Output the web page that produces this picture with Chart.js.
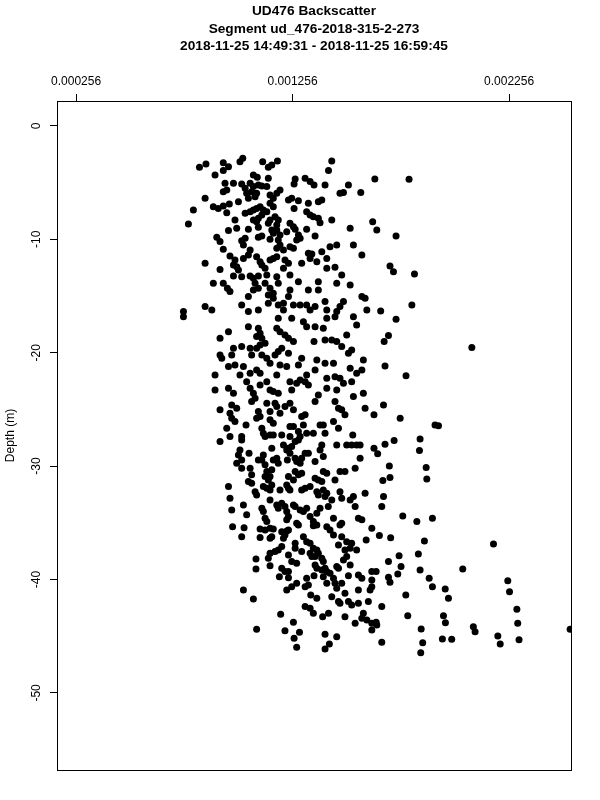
<!DOCTYPE html>
<html>
<head>
<meta charset="utf-8">
<title>UD476 Backscatter</title>
<script src="https://cdn.jsdelivr.net/npm/chart.js@4/dist/chart.umd.min.js"></script>
<style>
  html, body { margin: 0; padding: 0; background: #fff; }
  canvas { display: block; }
</style>
</head>
<body>
<canvas id="chart" width="600" height="800"></canvas>
<script>
const titleLines = ["UD476 Backscatter", "Segment ud_476-2018-315-2-273", "2018-11-25 14:49:31 - 2018-11-25 16:59:45"];
const xTicks = [0.000256, 0.001256, 0.002256];
const yTicks = [0, -10, -20, -30, -40, -50];

// backscatter readings
const backscatter = [
  0.001026,0.001013,0.000936,0.000960,0.000856,0.000826,0.001118,0.001144,0.001160,0.001186,
  0.001437,0.001422,0.000898,0.000936,0.001075,0.001093,0.001268,0.001263,0.001314,0.001337,
  0.001355,0.001406,0.001514,0.001144,0.000944,0.000983,0.001021,0.001037,0.001060,0.001075,
  0.001067,0.001098,0.001114,0.001137,0.000936,0.000952,0.000852,0.001006,0.001044,0.001052,
  0.001083,0.001090,0.001152,0.001167,0.001183,0.001198,0.001237,0.001252,0.001283,0.001329,
  0.001375,0.001391,0.001475,0.001491,0.001571,0.000890,0.000913,0.000936,0.000964,0.000798,
  0.000952,0.001037,0.001060,0.001075,0.001090,0.001106,0.001121,0.001137,0.001152,0.001167,
  0.001263,0.001321,0.001337,0.001352,0.001375,0.001383,0.001437,0.001114,0.001098,0.001090,
  0.001075,0.000990,0.000775,0.001152,0.001175,0.001190,0.001183,0.001144,0.001160,0.001167,
  0.001244,0.001260,0.001268,0.001321,0.001522,0.001626,0.000960,0.000998,0.001052,0.001098,
  0.001183,0.001198,0.001190,0.001229,0.001283,0.001275,0.001291,0.001360,0.000906,0.000921,
  0.001021,0.001037,0.001029,0.001098,0.001114,0.001152,0.001198,0.001183,0.001214,0.001244,
  0.001260,0.001329,0.001345,0.001391,0.001429,0.001460,0.001537,0.001576,0.000936,0.000967,
  0.001060,0.001052,0.001090,0.001106,0.001114,0.001129,0.001152,0.001167,0.001183,0.001221,
  0.001237,0.001214,0.001298,0.001337,0.001368,0.001414,0.001414,0.001452,0.000852,0.000921,
  0.000983,0.000990,0.000998,0.001006,0.001029,
  0.001021,0.000983,0.001060,0.001075,0.001098,0.001137,0.001183,0.001244,0.001483,
  0.001636,0.001794,0.001645,0.001734,0.001706,0.001722,0.001819,
  0.000890,0.000936,0.000955,0.000967,0.001083,0.001098,0.001075,0.001129,0.001152,0.001167,
  0.001144,0.001190,0.001244,0.001283,0.001329,0.001375,0.001375,0.001460,0.001522,0.001576,
  0.001591,0.001052,0.001021,0.001052,0.000852,0.000883,0.000752,0.000752,0.001098,0.001144,
  0.001167,0.001190,0.001214,0.001237,0.001260,0.001291,0.001321,0.001337,0.001360,0.001406,
  0.001414,0.001460,0.001475,0.001491,0.001599,0.001190,0.001214,0.001252,0.001306,0.001321,
  0.001360,0.001398,0.001414,0.001452,0.001537,0.001552,0.000960,0.000921,0.001052,0.001098,
  0.001106,0.001090,0.001114,0.001129,0.001183,0.001198,0.001221,0.001237,0.001260,0.001355,
  0.001406,0.001437,0.001460,0.001506,0.001483,0.001529,0.001514,0.000983,0.000975,0.001021,
  0.001060,0.001067,0.001090,0.001106,0.001114,0.000921,0.000929,0.001137,0.001152,0.001175,
  0.001190,0.001206,0.001237,0.001198,0.001229,0.001283,0.001298,0.001368,0.001406,0.001445,
  0.001522,0.001583,0.000960,0.000990,0.001029,0.000898,0.001013,0.001060,0.001090,0.001106,
  0.001183,0.001275,0.001291,0.001321,0.001314,0.001329,0.001360,0.001414,0.001452,0.001475,
  0.001491,0.001552,0.001576,0.001529,0.000898,0.000960,0.000983,0.001044,0.001060,0.001106,
  0.001137,0.001152,0.001167,0.001190,0.001075,0.001083,0.001244,0.001252,0.001375,0.001414,
  0.001460,0.001537,0.001583,
  0.001807,0.001663,0.001734,0.001699,0.001679,0.002084,0.001683,0.001780,
  0.000975,0.000998,0.001067,0.001137,0.001175,0.001183,0.001221,0.001244,0.001360,0.001452,
  0.001468,0.001483,0.001498,0.001591,0.001632,0.000921,0.000967,0.000975,0.000990,0.001098,
  0.001106,0.001090,0.001152,0.001198,0.001260,0.001298,0.001314,0.001152,0.001167,0.001041,
  0.000952,0.001114,0.001121,0.001129,0.001152,0.001167,0.001206,0.001244,0.001260,0.001306,
  0.001352,0.001321,0.001244,0.001283,0.001291,0.001383,0.001398,0.001406,0.001445,0.001468,
  0.001534,0.000967,0.001021,0.001021,0.000921,0.001214,0.001237,0.001252,0.001268,0.001283,
  0.001391,0.001460,0.001506,0.001529,0.001552,0.001568,0.001632,0.001013,0.001006,0.000998,
  0.001021,0.001055,0.001121,0.001114,0.001098,0.001160,0.001167,0.001183,0.001190,0.001229,
  0.001244,0.001268,0.001275,0.001291,0.001298,0.001314,0.001329,0.001232,0.001360,0.001383,
  0.001398,0.001568,0.001021,0.001060,0.001067,0.001129,0.001137,0.001152,0.001144,0.001129,
  0.001160,0.001268,0.001283,0.001298,0.001237,0.001260,0.001360,0.001375,0.001391,0.001398,
  0.001414,0.001452,0.001475,0.001498,0.001545,0.000960,0.001052,0.001067,0.001083,0.001090,
  0.001121,0.001137,0.001152,0.001160,0.001198,0.001229,0.001237,0.001244,0.001298,0.001314,
  0.001337,0.001368,0.001375,0.001398,0.001406,0.001414,0.001437,0.001475,0.001483,0.001522,
  0.001537,0.001591,0.000967,0.001029,0.000975,0.001114,0.001121,0.001152,0.001183,0.001190,
  0.001206,0.001221,0.001229,0.001260,0.001268,0.001291,0.001306,0.001321,0.001368,0.001383,
  0.001421,0.001545,0.001044,0.001129,0.001137,0.001229,0.001237,0.001275,0.001337,0.001352,
  0.001368,0.001445,0.001560,0.001576,0.001483,
  0.001676,0.001753,0.001914,0.001930,0.001845,0.001725,0.001683,0.001649,0.001842,0.001703,
  0.001873,0.001706,0.001673,0.001876,0.001676,0.001668,0.001765,0.001830,0.001902,
  0.000979,0.001032,0.001106,0.001129,0.001152,0.001167,0.001206,0.001229,0.001237,0.001283,
  0.001352,0.001414,0.001429,0.001445,0.001475,0.001021,0.001106,0.001152,0.001160,0.001214,
  0.001221,0.001306,0.001321,0.001337,0.001483,0.001506,0.001529,0.001596,0.001622,0.001206,
  0.001190,0.001175,0.001152,0.001144,0.001268,0.001268,0.001298,0.001352,0.001368,0.001337,
  0.001345,0.001360,0.001375,0.001391,0.001398,0.001468,0.001498,0.001522,0.001552,0.001506,
  0.001491,0.001087,0.001087,0.001152,0.001237,0.001252,0.001275,0.001206,0.001221,0.001237,
  0.001237,0.001195,0.001360,0.001368,0.001391,0.001406,0.001460,0.001468,0.001522,0.001321,
  0.001355,0.001398,0.001414,0.001429,0.001445,0.001452,0.001483,0.001460,0.001514,0.001560,
  0.001576,0.001622,0.001622,0.001275,0.001252,0.001229,0.001314,0.001329,0.001414,0.001029,
  0.001075,0.001340,0.001368,0.001437,0.001468,0.001475,0.001498,0.001514,0.001529,0.001560,
  0.001560,0.001606,0.001614,0.001622,0.001314,0.001337,0.001352,0.001422,0.001395,0.001498,
  0.001545,0.001576,0.001583,0.001599,0.001622,0.001622,0.001201,0.001260,0.001090,0.001221,
  0.001288,0.001263,0.001406,0.001460,0.001426,0.001406,0.001275,
  0.001657,0.001709,0.001865,0.002184,0.001837,0.001748,0.001699,0.001757,0.001845,0.001642,
  0.001742,0.001699,0.001706,0.001887,0.001902,0.001961,0.001976,0.002042,0.001779,0.002250,
  0.002258,0.001668,0.002292,0.001788,0.001953,0.001962,0.002296,0.001645,0.001642,0.001850,
  0.002091,0.002099,0.002538,0.001668,0.001857,0.001948,0.001991,0.002204,0.002215,0.002302,
  0.001848
];

// depth in metres, same order as backscatter
const depth = [
  -2.85,-3.15,-3.24,-3.59,-3.35,-3.65,-3.15,-3.65,-3.44,-3.09,
  -3.09,-3.94,-4.32,-3.94,-4.32,-4.53,-4.68,-5.12,-4.62,-4.91,
  -5.21,-5.21,-5.21,-4.62,-5.06,-5.06,-5.12,-5.50,-5.06,-5.35,
  -5.80,-5.21,-5.30,-5.35,-5.80,-5.65,-6.38,-6.68,-5.94,-6.38,
  -6.24,-5.94,-6.09,-6.38,-5.94,-5.65,-6.53,-6.38,-6.59,-6.82,
  -6.68,-6.53,-5.94,-5.88,-5.88,-7.12,-7.27,-7.06,-6.88,-7.41,
  -7.65,-7.71,-7.56,-7.41,-7.27,-7.12,-7.41,-7.56,-6.82,-7.12,
  -7.27,-7.56,-7.85,-8.00,-8.15,-8.53,-8.29,-7.85,-8.15,-8.44,
  -8.29,-8.29,-8.65,-8.29,-8.00,-8.29,-8.74,-8.59,-9.18,-9.47,
  -8.59,-8.88,-9.12,-9.12,-9.03,-8.44,-9.23,-9.03,-9.12,-8.94,
  -9.18,-9.62,-10.06,-9.32,-9.62,-10.06,-9.91,-9.71,-9.82,-10.2,
  -10.12,-9.91,-10.5,-9.82,-9.71,-10.0,-10.5,-10.79,-10.94,-10.65,
  -10.79,-11.23,-11.29,-11.09,-10.65,-10.5,-10.5,-11.38,-10.88,-11.47,
  -10.94,-11.38,-11.53,-11.97,-12.26,-12.56,-11.82,-11.68,-11.53,-11.82,
  -12.12,-12.56,-12.12,-11.68,-11.97,-11.68,-12.56,-12.47,-12.12,-12.65,
  -12.26,-11.82,-12.41,-12.7,-11.68,
  -13.29,-13.23,-13.23,-13.44,-13.23,-13.15,-13.29,-13.15,-13.15,
  -4.68,-4.71,-9.18,-9.71,-12.35,-12.85,-13.06,
  -13.88,-13.88,-14.32,-14.61,-13.88,-14.32,-14.46,-13.88,-14.32,-14.76,
  -14.9,-13.88,-14.46,-13.73,-14.46,-13.73,-14.46,-13.88,-14.02,-15.05,
  -15.2,-15.05,-15.79,-16.37,-15.93,-16.23,-16.37,-16.82,-16.23,-15.64,
  -15.2,-15.79,-15.64,-15.05,-15.79,-15.79,-15.79,-16.23,-15.93,-15.49,
  -16.23,-16.37,-15.93,-15.49,-16.23,-16.96,-16.23,-16.96,-17.26,-17.7,
  -17.7,-17.84,-16.96,-16.82,-16.82,-17.55,-18.14,-18.73,-17.7,-17.84,
  -18.28,-18.58,-18.73,-19.17,-17.84,-18.14,-18.43,-18.73,-19.02,-19.02,
  -18.87,-18.87,-19.02,-18.43,-19.46,-19.75,-20.05,-19.61,-20.2,-19.46,
  -19.61,-20.2,-19.61,-19.31,-20.2,-20.2,-20.49,-20.49,-20.93,-20.2,
  -19.9,-19.61,-20.05,-21.08,-21.22,-21.08,-20.49,-20.64,-20.93,-20.93,
  -21.37,-20.64,-21.22,-21.08,-21.22,-21.96,-21.96,-21.81,-21.52,-21.81,
  -21.96,-22.7,-22.4,-21.96,-22.55,-22.84,-21.52,-22.25,-22.11,-22.25,
  -22.7,-21.81,-21.52,-22.55,-23.28,-23.14,-23.58,-22.55,-23.14,-22.84,
  -22.55,-23.28,-23.43,-23.58,-23.58,-24.02,-22.55,-23.28,-23.72,-23.14,
  -23.28,-23.87,-23.58,
  -15.79,-16.32,-17.05,-18.49,-19.02,-19.55,-21.17,-22.02,
  -24.6,-24.9,-24.3,-24.45,-24.45,-24.75,-24.75,-24.45,-24.3,-24.3,
  -24.9,-25.04,-25.48,-24.9,-25.48,-25.04,-25.34,-25.78,-26.07,-25.19,
  -25.63,-25.78,-25.19,-25.34,-25.04,-25.63,-25.48,-25.92,-26.22,-26.37,
  -26.66,-26.66,-27.1,-27.39,-27.25,-27.25,-27.25,-26.51,-26.51,-26.37,
  -27.1,-27.1,-27.39,-26.95,-27.39,-26.37,-26.37,-27.1,-26.07,-26.66,
  -27.25,-27.39,-27.39,-27.69,-27.84,-28.13,-28.42,-28.28,-27.84,-27.69,
  -28.13,-28.13,-28.13,-28.13,-28.13,-28.13,-28.42,-28.57,-29.01,-29.75,
  -29.45,-28.86,-29.01,-29.45,-29.45,-28.42,-29.45,-29.3,-29.75,-28.57,
  -28.86,-29.3,-29.6,-29.75,-29.3,-28.86,-28.86,-29.45,-29.6,-28.57,
  -29.16,-29.3,-30.19,-30.19,-30.77,-29.89,-30.48,-30.92,-31.22,-30.92,
  -30.33,-30.48,-30.77,-30.63,-30.92,-31.22,-31.07,-31.22,-31.36,-30.48,
  -30.63,-31.22,-30.48,-30.48,-30.19,-31.8,-31.36,-31.51,-32.25,-32.54,
  -31.8,-31.95,-32.1,-31.66,-32.1,-31.66,-31.95,-32.1,-32.1,-31.95,
  -31.8,-32.25,-32.54,-32.1,-32.69,-32.39,-32.98,-32.25,-32.83,-32.98,
  -32.69,-32.39,-32.83,-33.42,-33.86,-33.72,-34.01,-32.98,-33.42,-33.72,
  -33.27,-33.57,-34.01,-33.42,-33.57,-33.86,-34.01,-33.72,-34.16,-33.72,
  -33.57,-33.57,-34.3,-34.6,-34.89,-34.74,-34.45,-35.04,-34.45,-34.89,
  -35.19,-34.6,-34.6,-34.74,-35.04,
  -24.6,-25.78,-26.37,-26.45,-27.6,-27.75,-28.07,-28.92,-28.63,-29.98,
  -30.13,-31.0,-31.27,-31.13,-32.69,-33.57,-34.39,-34.89,-34.6,
  -35.34,-35.43,-35.54,-35.63,-35.48,-35.54,-35.78,-35.72,-35.63,-35.19,
  -35.25,-35.34,-35.63,-36.07,-35.19,-36.22,-36.3,-36.37,-36.22,-36.37,
  -36.07,-36.22,-36.66,-36.81,-36.22,-36.66,-36.81,-36.51,-35.48,-37.1,
  -37.39,-37.54,-37.69,-38.13,-36.81,-37.25,-37.54,-37.25,-37.39,-37.69,
  -37.98,-37.98,-37.69,-38.13,-38.42,-36.95,-37.39,-37.25,-37.39,-37.98,
  -38.28,-38.19,-39.07,-38.78,-37.84,-38.42,-38.57,-39.01,-39.3,-39.3,
  -39.84,-39.75,-38.72,-39.01,-39.16,-39.01,-38.86,-39.01,-38.72,-39.89,
  -39.66,-39.75,-39.3,-39.45,-39.89,-40.33,-40.33,-40.78,-39.66,-39.6,
  -39.89,-39.3,-40.04,-40.33,-40.63,-40.92,-40.63,-40.48,-40.33,-40.92,
  -41.72,-41.36,-41.66,-41.51,-41.95,-42.1,-41.22,-41.95,-42.25,-40.92,
  -42.1,-41.95,-40.92,-40.63,-42.39,-42.54,-42.98,-42.98,-43.28,-43.28,
  -43.86,-43.42,-42.98,-43.57,-43.86,-44.45,-43.07,-43.77,-44.39,-44.51,
  -44.66,-45.19,-44.83,-45.04,-45.69,-46.13,-45.98,
  -36.13,-36.31,-36.6,-36.87,-37.75,-37.9,-38.42,-38.86,-39.16,-39.3,
  -39.51,-39.8,-40.25,-39.89,-40.63,-40.83,-41.66,-39.07,-41.36,-40.1,
  -41.07,-42.39,-42.63,-43.19,-43.19,-43.81,-43.86,-44.01,-43.78,-44.36,
  -44.16,-44.6,-44.39,-45.54,-45.57,-45.25,-45.28,-44.98,-45.69,-45.31,
  -46.45
];

const points = backscatter.map((b, i) => ({ x: b, y: depth[i] }));
const fontFamily = "'Liberation Sans', Arial, Helvetica, sans-serif";

// box round the plot area and the three title lines
const framePlugin = {
  id: 'frame',
  afterDraw(chart) {
    const { ctx, chartArea: a } = chart;
    ctx.save();
    ctx.strokeStyle = '#000';
    ctx.lineWidth = 1;
    ctx.strokeRect(a.left + 0.5, a.top + 0.5, a.right - a.left, a.bottom - a.top);
    ctx.fillStyle = '#000';
    ctx.textAlign = 'center';
    ctx.textBaseline = 'alphabetic';
    ctx.font = 'bold 13.7px ' + fontFamily;
    const cx = (a.left + a.right) / 2;
    titleLines.forEach((line, i) => ctx.fillText(line, cx, 15 + i * 17.5));
    ctx.restore();
  }
};

new Chart(document.getElementById('chart'), {
  type: 'scatter',
  data: {
    datasets: [{
      data: points,
      pointRadius: 3.5,
      pointHoverRadius: 3.5,
      pointBackgroundColor: '#000',
      pointBorderWidth: 0,
      showLine: false
    }]
  },
  options: {
    responsive: false,
    animation: false,
    events: [],
    layout: { padding: { left: 0, top: 0, right: 29, bottom: 30 } },
    plugins: { legend: { display: false }, tooltip: { enabled: false } },
    scales: {
      x: {
        type: 'linear',
        position: 'top',
        min: 0.000168,
        max: 0.002542,
        afterBuildTicks: s => { s.ticks = xTicks.map(v => ({ value: v })); },
        afterFit: s => { s.height = 101; },
        grid: { drawOnChartArea: false, drawTicks: true, tickLength: 7, color: '#000' },
        border: { display: false },
        ticks: {
          color: '#000', padding: 5, maxRotation: 0, autoSkip: false,
          font: { family: fontFamily, size: 12 },
          callback: v => v.toFixed(6)
        }
      },
      y: {
        type: 'linear',
        min: -56.8,
        max: 2.2,
        afterBuildTicks: s => { s.ticks = yTicks.map(v => ({ value: v })); },
        afterFit: s => { s.width = 57; },
        grid: { drawOnChartArea: false, drawTicks: true, tickLength: 7, color: '#000' },
        border: { display: false },
        title: {
          display: true, text: 'Depth (m)', color: '#000',
          font: { family: fontFamily, size: 12 },
          padding: { top: 3, bottom: 0 }
        },
        ticks: {
          color: '#000', padding: 5, minRotation: 90, maxRotation: 90, crossAlign: 'center', autoSkip: false,
          font: { family: fontFamily, size: 12 },
          callback: v => String(v)
        }
      }
    }
  },
  plugins: [framePlugin]
});
</script>
</body>
</html>
